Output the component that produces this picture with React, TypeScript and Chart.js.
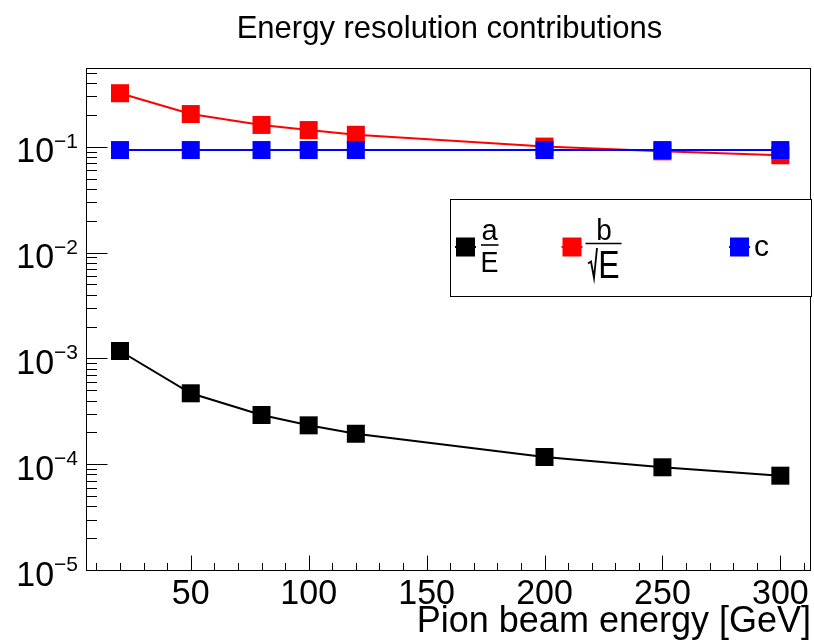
import React, { useEffect, useRef } from "react";
import { Chart, registerables } from "chart.js";

Chart.register(...registerables);

// Beam energies [GeV] and the three resolution terms at each energy
const energies = [20, 50, 80, 100, 120, 200, 250, 300];
const termA = [1.175e-3, 4.68e-4, 2.92e-4, 2.33e-4, 1.94e-4, 1.17e-4, 9.35e-5, 7.79e-5];
const termB = [0.321, 0.204, 0.161, 0.144, 0.13, 0.1005, 0.0907, 0.0832];
const termC = [0.0932, 0.0932, 0.0932, 0.0932, 0.0932, 0.0932, 0.0932, 0.0932];

// Axis ranges and tick values
const xRange = [6, 313];
const yRange = [1e-5, 0.556];
const xMajorTicks = [50, 100, 150, 200, 250, 300];
const xMinorTicks = [10, 20, 30, 40, 60, 70, 80, 90, 110, 120, 130, 140, 160, 170, 180, 190, 210, 220, 230, 240, 260, 270, 280, 290, 310];
const yDecades = [-5, -4, -3, -2, -1];
const yMinorFactors = [2, 3, 4, 5, 6, 7, 8, 9];

const titleText = "Energy resolution contributions";
const xTitleText = "Pion beam energy [GeV]";

const FONT = "'Liberation Sans', Arial, Helvetica, sans-serif";

function text(
  ctx: CanvasRenderingContext2D,
  s: string,
  x: number,
  y: number,
  size: number,
  align: CanvasTextAlign = "left",
  sy = 1
) {
  ctx.save();
  ctx.font = `${size}px ${FONT}`;
  ctx.textAlign = align;
  ctx.textBaseline = "alphabetic";
  ctx.translate(x, y);
  ctx.scale(1, sy);
  ctx.fillText(s, 0, 0);
  ctx.restore();
}

const frameAndLabels = {
  id: "frameAndLabels",
  afterDatasetsDraw(chart: any) {
    const { ctx, chartArea: a, scales } = chart;
    const xs = scales.x;
    const ys = scales.y;
    ctx.save();
    ctx.fillStyle = "#000";
    ctx.strokeStyle = "#000";
    ctx.lineWidth = 1;

    // frame
    const L = Math.round(a.left) - 0.5;
    const R = Math.round(a.right) - 0.5;
    const T = Math.round(a.top) + 0.5;
    const B = Math.round(a.bottom) + 0.5;
    ctx.strokeRect(L, T, R - L, B - T);

    // x ticks (inside, from the bottom edge)
    ctx.beginPath();
    xMajorTicks.forEach((v) => {
      const px = Math.round(xs.getPixelForValue(v)) + 0.5;
      ctx.moveTo(px, B);
      ctx.lineTo(px, B - 15);
    });
    xMinorTicks.forEach((v) => {
      const px = Math.round(xs.getPixelForValue(v)) + 0.5;
      ctx.moveTo(px, B);
      ctx.lineTo(px, B - 7.5);
    });
    // y ticks (inside, from the left edge)
    yDecades.forEach((d) => {
      const base = Math.pow(10, d);
      const py = Math.round(ys.getPixelForValue(base)) + 0.5;
      ctx.moveTo(L, py);
      ctx.lineTo(L + 21, py);
      yMinorFactors.forEach((k) => {
        const v = k * base;
        if (v > yRange[1]) return;
        const pm = Math.round(ys.getPixelForValue(v)) + 0.5;
        ctx.moveTo(L, pm);
        ctx.lineTo(L + 10.5, pm);
      });
    });
    ctx.stroke();

    // x tick labels
    xMajorTicks.forEach((v) => {
      text(ctx, String(v), xs.getPixelForValue(v), 604, 34, "center", 1.04);
    });

    // y tick labels: 10^d
    yDecades.forEach((d) => {
      const py = ys.getPixelForValue(Math.pow(10, d));
      const sup = "\u2212" + String(-d);
      ctx.font = `21px ${FONT}`;
      const supW = ctx.measureText(sup).width;
      ctx.font = `34px ${FONT}`;
      const baseW = ctx.measureText("10").width;
      const right = 78;
      text(ctx, "10", right - supW - baseW, py + 15.5, 34, "left", 1.04);
      text(ctx, sup, right - supW, py + 1, 21, "left");
    });

    // titles
    text(ctx, titleText, 449.5, 38, 31, "center", 1.02);
    text(ctx, xTitleText, 811, 632, 36, "right", 1.02);

    // legend box
    ctx.fillStyle = "#fff";
    ctx.fillRect(450.5, 199.5, 361, 97);
    ctx.strokeStyle = "#000";
    ctx.strokeRect(450.5, 199.5, 361, 97);

    const entries = [
      { cx: 465.5, color: "#000000" },
      { cx: 572, color: "#ff0000" },
      { cx: 739.5, color: "#0000ff" },
    ];
    const cy = 247;
    entries.forEach((e) => {
      ctx.strokeStyle = e.color;
      ctx.lineWidth = 2;
      ctx.beginPath();
      ctx.moveTo(e.cx - 10.5, cy);
      ctx.lineTo(e.cx + 10.5, cy);
      ctx.stroke();
      ctx.fillStyle = e.color;
      ctx.fillRect(e.cx - 9.5, cy - 9.5, 19, 19);
    });

    ctx.fillStyle = "#000";
    ctx.strokeStyle = "#000";
    // a / E
    text(ctx, "a", 489.5, 240, 29, "center");
    ctx.lineWidth = 1.6;
    ctx.beginPath();
    ctx.moveTo(481, 245);
    ctx.lineTo(498.5, 245);
    ctx.stroke();
    text(ctx, "E", 489.5, 271.5, 27, "center", 1.08);

    // b / sqrt(E)
    text(ctx, "b", 604, 240, 28, "center", 1.05);
    ctx.beginPath();
    ctx.moveTo(585.5, 243.5);
    ctx.lineTo(621.5, 243.5);
    ctx.stroke();
    ctx.lineWidth = 1.8;
    ctx.beginPath();
    ctx.moveTo(588, 263.5);
    ctx.lineTo(591, 261.5);
    ctx.lineTo(594, 278);
    ctx.lineTo(597, 248);
    ctx.stroke();
    text(ctx, "E", 609, 278, 32, "center", 1.2);

    // c
    text(ctx, "c", 754, 256, 30, "left");

    ctx.restore();
  },
};

export default function App() {
  const canvasRef = useRef<HTMLCanvasElement | null>(null);

  useEffect(() => {
    const canvas = canvasRef.current;
    if (!canvas) return;

    const mk = (vals: number[]) => energies.map((x, i) => ({ x, y: vals[i] }));
    const series = (vals: number[], color: string, order: number) => ({
      data: mk(vals),
      borderColor: color,
      backgroundColor: color,
      borderWidth: 2,
      pointStyle: "rect" as const,
      pointRadius: 12.73,
      pointHoverRadius: 12.73,
      pointBorderWidth: 0,
      pointBackgroundColor: color,
      tension: 0,
      order,
    });

    const chart = new Chart(canvas, {
      type: "line",
      data: {
        datasets: [
          { label: "a/E", ...series(termA, "#000000", 3) },
          { label: "b/sqrt(E)", ...series(termB, "#ff0000", 2) },
          { label: "c", ...series(termC, "#0000ff", 1) },
        ],
      },
      options: {
        responsive: false,
        animation: false,
        devicePixelRatio: 1,
        events: [],
        layout: { autoPadding: false, padding: { left: 87, right: 3, top: 68, bottom: 73 } },
        scales: {
          x: { type: "linear", min: xRange[0], max: xRange[1], display: false },
          y: { type: "logarithmic", min: yRange[0], max: yRange[1], display: false },
        },
        plugins: {
          legend: { display: false },
          title: { display: false },
          tooltip: { enabled: false },
        },
      },
      plugins: [frameAndLabels],
    });

    return () => chart.destroy();
  }, []);

  return (
    <div style={{ position: "fixed", left: 0, top: 0, width: 814, height: 643, background: "#fff" }}>
      <canvas ref={canvasRef} width={814} height={643} style={{ display: "block" }} />
    </div>
  );
}
